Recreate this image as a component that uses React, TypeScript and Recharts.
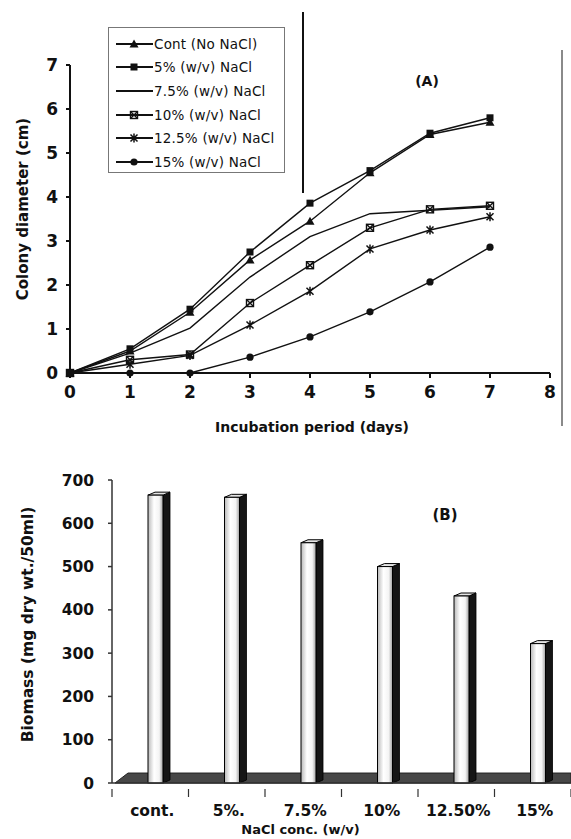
import React from 'react'
import { LineChart, Line, XAxis, YAxis, BarChart, Bar, ReferenceArea } from 'recharts'

// (A) colony diameter (cm) by incubation day
const days = [0, 1, 2, 3, 4, 5, 6, 7]
const cont = [0, 0.5, 1.38, 2.57, 3.45, 4.55, 5.42, 5.7]
const salt5 = [0, 0.55, 1.45, 2.75, 3.86, 4.6, 5.45, 5.8]
const salt75 = [0, 0.45, 1.02, 2.18, 3.1, 3.62, 3.7, 3.78]
const salt10 = [0, 0.3, 0.42, 1.59, 2.45, 3.3, 3.72, 3.8]
const salt125 = [0, 0.2, 0.4, 1.09, 1.86, 2.82, 3.25, 3.55]
const salt15 = [0, 0, 0, 0.36, 0.82, 1.39, 2.07, 2.86]
const xTicks = [0, 1, 2, 3, 4, 5, 6, 7, 8]
const yTicks = [0, 1, 2, 3, 4, 5, 6, 7]

// (B) biomass by NaCl concentration
const categories = ['cont.', '5%.', '7.5%', '10%', '12.50%', '15%']
const biomass = [665, 660, 555, 500, 432, 322]
const biomassTicks = [0, 100, 200, 300, 400, 500, 600, 700]

const series = [
  { key: 'cont', name: 'Cont  (No NaCl)', values: cont, marker: 'triangle' },
  { key: 's5', name: '5% (w/v) NaCl', values: salt5, marker: 'square' },
  { key: 's75', name: '7.5% (w/v) NaCl', values: salt75, marker: 'none' },
  { key: 's10', name: '10% (w/v) NaCl', values: salt10, marker: 'xbox' },
  { key: 's125', name: '12.5% (w/v) NaCl', values: salt125, marker: 'star' },
  { key: 's15', name: '15% (w/v) NaCl', values: salt15, marker: 'circle' },
]

const lineData = days.map((d, i) => {
  const row: Record<string, number> = { day: d }
  series.forEach((s) => { row[s.key] = s.values[i] })
  return row
})

const barData = categories.map((c, i) => ({ cat: c, biomass: biomass[i] }))

const FONT = '"DejaVu Sans", Verdana, sans-serif'
const INK = '#111'

function Marker({ cx, cy, kind }: { cx?: number; cy?: number; kind: string }) {
  if (cx == null || cy == null) return <g />
  switch (kind) {
    case 'triangle':
      return <polygon points={`${cx},${cy - 4.5} ${cx + 4.5},${cy + 3.5} ${cx - 4.5},${cy + 3.5}`} fill={INK} />
    case 'square':
      return <rect x={cx - 3.5} y={cy - 3.5} width={7} height={7} fill={INK} />
    case 'xbox':
      return (
        <g stroke={INK} strokeWidth={1.4} fill="none">
          <rect x={cx - 3.5} y={cy - 3.5} width={7} height={7} />
          <path d={`M${cx - 3.5} ${cy - 3.5}L${cx + 3.5} ${cy + 3.5}M${cx - 3.5} ${cy + 3.5}L${cx + 3.5} ${cy - 3.5}`} />
        </g>
      )
    case 'star':
      return (
        <path
          d={`M${cx - 3.5} ${cy - 3.5}L${cx + 3.5} ${cy + 3.5}M${cx - 3.5} ${cy + 3.5}L${cx + 3.5} ${cy - 3.5}M${cx} ${cy - 4.5}V${cy + 4.5}`}
          stroke={INK}
          strokeWidth={1.5}
        />
      )
    case 'circle':
      return <circle cx={cx} cy={cy} r={3.6} fill={INK} />
    default:
      return <g />
  }
}

function LegendBox() {
  return (
    <div
      style={{
        position: 'absolute',
        left: 108,
        top: 27,
        width: 177,
        height: 146,
        border: '1px solid #777',
        background: '#fff',
        padding: '4px 0 4px 6px',
        fontFamily: FONT,
        fontSize: 13.5,
        color: INK,
        boxSizing: 'border-box',
      }}
    >
      {series.map((s) => (
        <div key={s.key} style={{ display: 'flex', alignItems: 'center', height: 23.6 }}>
          <svg width={39} height={12} style={{ flexShrink: 0 }}>
            <line x1={1} y1={6} x2={38} y2={6} stroke={INK} strokeWidth={1.8} />
            <Marker cx={19} cy={6} kind={s.marker} />
          </svg>
          <span style={{ whiteSpace: 'nowrap', letterSpacing: 0.2 }}>{s.name}</span>
        </div>
      ))}
    </div>
  )
}

function RotatedLabel({ viewBox, value, dx, dy, size }: any) {
  const cx = viewBox.x + dx
  const cy = viewBox.y + viewBox.height / 2 + dy
  return (
    <text
      transform={`translate(${cx},${cy}) rotate(-90)`}
      textAnchor="middle"
      dominantBaseline="central"
      fontFamily={FONT}
      fontWeight={700}
      fontSize={size}
      fill={INK}
    >
      {value}
    </text>
  )
}

function BottomLabel({ viewBox, value, dx, dy, size }: any) {
  return (
    <text
      x={viewBox.x + viewBox.width / 2 + dx}
      y={viewBox.y + dy}
      textAnchor="middle"
      dominantBaseline="central"
      fontFamily={FONT}
      fontWeight={700}
      fontSize={size}
      fill={INK}
    >
      {value}
    </text>
  )
}

const BAND = (571 - 112) / categories.length

function CatTick({ x, y, payload, index }: any) {
  const left = x - BAND / 2
  return (
    <g>
      <line x1={left} y1={y - 2} x2={left} y2={y + 6} stroke="#333" strokeWidth={1.2} />
      {index === categories.length - 1 && (
        <line x1={x + BAND / 2} y1={y - 2} x2={x + BAND / 2} y2={y + 6} stroke="#333" strokeWidth={1.2} />
      )}
      <text x={x + 2} y={y + 25} textAnchor="middle" fontFamily={FONT} fontWeight={700} fontSize={15.5} fill={INK}>
        {payload.value}
      </text>
    </g>
  )
}

function Bar3D(props: any) {
  const { x, y, width, height } = props
  const fx = x + 5
  const side = 7
  const d = 3
  return (
    <g>
      <polygon
        points={`${fx + width},${y} ${fx + width + side},${y - d} ${fx + width + side},${y + height - d} ${fx + width},${y + height}`}
        fill="#151515"
        stroke="#000"
        strokeWidth={0.8}
      />
      <polygon
        points={`${fx},${y} ${fx + side},${y - d} ${fx + width + side},${y - d} ${fx + width},${y}`}
        fill="#e4e4e4"
        stroke="#000"
        strokeWidth={1}
      />
      <rect x={fx} y={y} width={width} height={height} fill="url(#barFace)" stroke="#000" strokeWidth={1} />
    </g>
  )
}

function Floor(props: any) {
  const { x, y, width, height } = props
  return (
    <polygon
      points={`${x + 3},${y + height} ${x + width},${y + height} ${x + width},${y} ${x + 16},${y}`}
      fill="#474747"
      stroke="#222"
      strokeWidth={1}
    />
  )
}

const tickStyle = { fontFamily: FONT, fontWeight: 700, fill: INK }

export default function App() {
  return (
    <div style={{ position: 'absolute', left: 0, top: 0, width: 571, height: 839, background: '#fff', overflow: 'hidden' }}>
      <div style={{ position: 'absolute', left: 0, top: 0 }}>
        <LineChart width={571} height={440} data={lineData} margin={{ top: 65, right: 21, left: 0, bottom: 37 }}>
          <XAxis
            dataKey="day"
            type="number"
            domain={[0, 8]}
            ticks={xTicks}
            interval={0}
            height={30}
            stroke={INK}
            strokeWidth={2}
            tickSize={5}
            tickMargin={8}
            tick={{ ...tickStyle, fontSize: 17 }}
            label={<BottomLabel value="Incubation period (days)" dx={2} dy={54} size={14} />}
          />
          <YAxis
            type="number"
            domain={[0, 7]}
            ticks={yTicks}
            interval={0}
            width={70}
            stroke={INK}
            strokeWidth={2}
            tickSize={4}
            tickMargin={8}
            tick={{ ...tickStyle, fontSize: 17 }}
            label={<RotatedLabel value="Colony diameter (cm)" dx={23} dy={-10} size={15} />}
          />
          {series.map((s) => (
            <Line
              key={s.key}
              dataKey={s.key}
              name={s.name}
              stroke={INK}
              strokeWidth={1.4}
              dot={
                s.marker === 'none'
                  ? false
                  : (p: any) => <Marker key={`${s.key}-${p.index}`} cx={p.cx} cy={p.cy} kind={s.marker} />
              }
              activeDot={false}
              isAnimationActive={false}
            />
          ))}
        </LineChart>
      </div>

      <LegendBox />

      <div style={{ position: 'absolute', left: 427, top: 73, fontFamily: FONT, fontWeight: 700, fontSize: 14, color: INK, transform: 'translateX(-50%)' }}>
        (A)
      </div>
      <div style={{ position: 'absolute', left: 302, top: 12, width: 2, height: 181, background: '#111' }} />
      <div style={{ position: 'absolute', left: 561, top: 50, width: 2, height: 376, background: '#8a8a8a' }} />

      <div style={{ position: 'absolute', left: 0, top: 450 }}>
        <BarChart width={571} height={389} data={barData} margin={{ top: 30, right: 0, left: 0, bottom: 26 }} barCategoryGap={0}>
          <defs>
            <linearGradient id="barFace" x1="0" y1="0" x2="1" y2="0">
              <stop offset="0%" stopColor="#b8b8b8" />
              <stop offset="40%" stopColor="#ffffff" />
              <stop offset="75%" stopColor="#f4f4f4" />
              <stop offset="100%" stopColor="#a0a0a0" />
            </linearGradient>
          </defs>
          <XAxis
            dataKey="cat"
            height={30}
            stroke="#333"
            strokeWidth={1.5}
            tickLine={false}
            interval={0}
            tick={<CatTick />}
            label={<BottomLabel value="NaCl conc. (w/v)" dx={-41} dy={46} size={13} />}
          />
          <YAxis
            type="number"
            domain={[0, 700]}
            ticks={biomassTicks}
            interval={0}
            width={112}
            stroke="#333"
            strokeWidth={1.5}
            tickSize={4}
            tickMargin={14}
            tick={{ ...tickStyle, fontSize: 15.5 }}
            label={<RotatedLabel value="Biomass (mg dry wt./50ml)" dx={28} dy={-7} size={15.5} />}
          />
          <ReferenceArea y1={0} y2={23} ifOverflow="visible" shape={<Floor />} zIndex={-10} />
          <Bar dataKey="biomass" barSize={15} shape={<Bar3D />} isAnimationActive={false} />
        </BarChart>
      </div>

      <div style={{ position: 'absolute', left: 445, top: 506, fontFamily: FONT, fontWeight: 700, fontSize: 15, color: INK, transform: 'translateX(-50%)' }}>
        (B)
      </div>
    </div>
  )
}
